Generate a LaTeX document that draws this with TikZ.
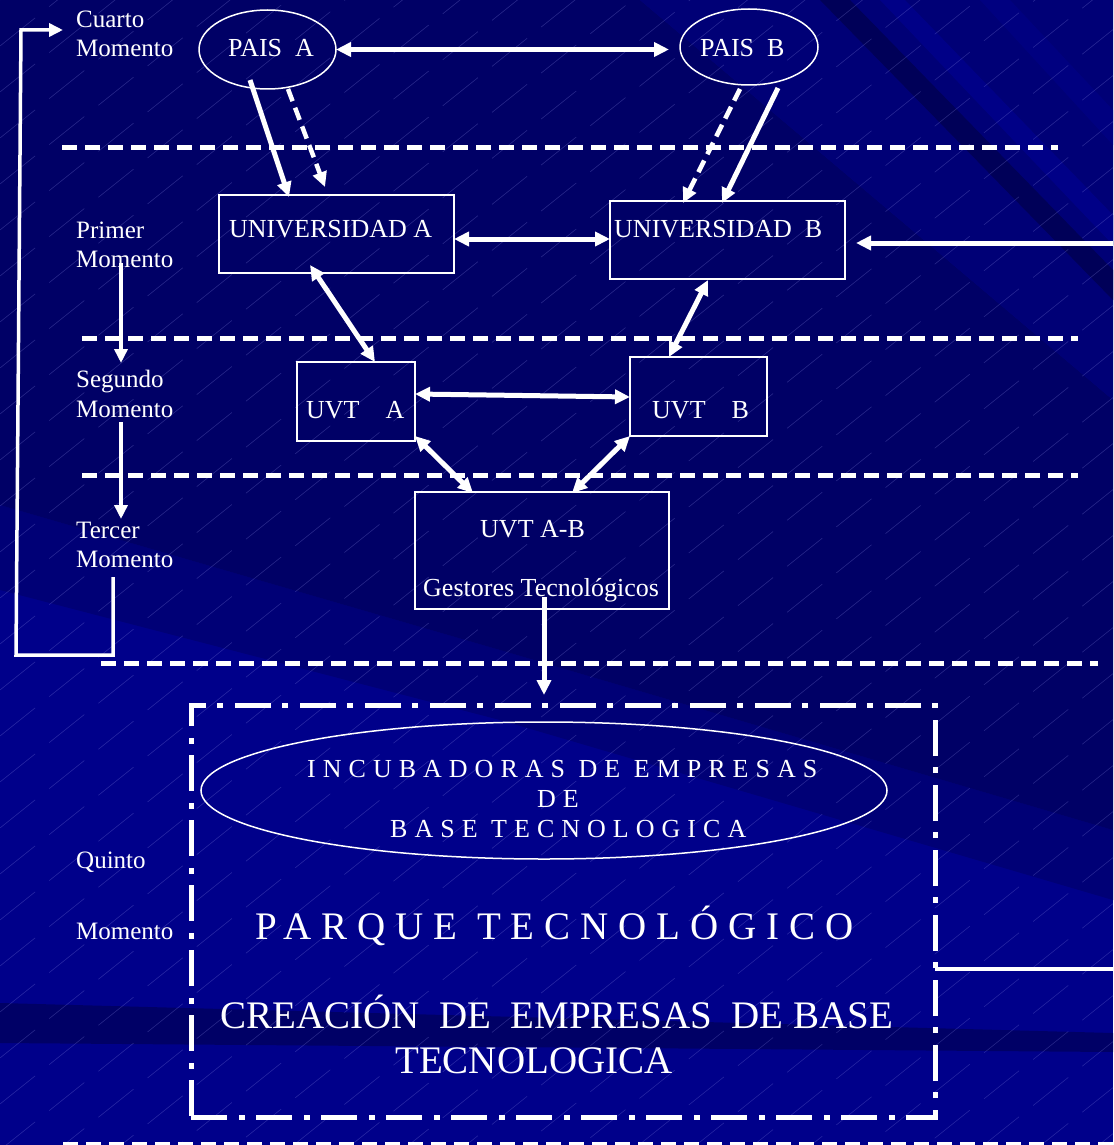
\documentclass[tikz,border=0pt]{standalone}
\usepackage{fontspec}
\setmainfont{Liberation Serif}
\newfontfamily\spacedfont[LetterSpace=27]{Liberation Serif}
\newfontfamily\spacedbig[LetterSpace=25.5]{Liberation Serif}
\usetikzlibrary{arrows.meta,shapes.geometric,calc}
\definecolor{bgL}{RGB}{0,0,138}
\definecolor{bgM}{RGB}{0,0,118}
\definecolor{bgD}{RGB}{0,0,102}
\definecolor{bgDD}{RGB}{0,0,88}
\definecolor{bgS}{RGB}{0,0,135}
\definecolor{hatchc}{RGB}{150,150,235}
\begin{document}
\begin{tikzpicture}[x=1pt,y=-1pt,
  lbl/.style={text=white, font=\fontsize{25}{30}\selectfont, inner sep=0pt, anchor=base west},
  boxtxt/.style={text=white, font=\fontsize{26}{31}\selectfont, inner sep=0pt, anchor=base west},
  box/.style={draw=white, line width=1.5pt, rectangle, inner sep=0pt, outer sep=0pt},
  oval/.style={draw=white, line width=1.5pt, ellipse, inner sep=0pt, outer sep=0pt},
  bigbox/.style={draw=white, line width=5pt, rectangle, inner sep=0pt, outer sep=0pt,
     dash pattern=on 36pt off 12pt on 6pt off 11pt},
  sep/.style={white, line width=5pt, dash pattern=on 15pt off 8pt},
  conn/.style={white, line width=5pt, -{Triangle[length=15pt,width=14pt]}},
  dconn/.style={white, line width=4.5pt, dash pattern=on 13pt off 7pt, -{Triangle[length=15pt,width=14pt]}},
  both/.style={white, line width=5pt, {Triangle[length=15pt,width=14pt]}-{Triangle[length=15pt,width=14pt]}},
  thin/.style={white, line width=3.5pt, -{Triangle[length=14pt,width=13pt]}},
  hatch/.style={hatchc, line width=0.5pt, opacity=0.3, dash pattern=on 45pt off 18pt}
]
\useasboundingbox (0,0) rectangle (1113,1145);
% ---------- background ----------
\begin{scope}
\clip (0,0) rectangle (1113,1145);
\fill[bgL] (0,0) rectangle (1113,1145);
\fill[bgM] (0,505) -- (500,650) -- (1113,830) -- (1113,900) -- (500,720) -- (0,590) -- cycle;
\fill[bgD] (0,0) -- (640,0) -- (1113,400) -- (1113,830) -- (500,650) -- (0,505) -- cycle;
\fill[bgM] (640,0) -- (1113,0) -- (1113,400) -- cycle;
\fill[bgDD] (820,0) -- (850,0) -- (1113,270) -- (1113,300) -- cycle;
\fill[bgS] (880,0) -- (905,0) -- (1113,215) -- (1113,245) -- cycle;
\fill[bgS, opacity=0.6] (980,0) -- (1010,0) -- (1113,110) -- (1113,145) -- cycle;
\fill[bgDD, opacity=0.7] (0,1003) -- (1113,1033) -- (1113,1052) -- (0,1043) -- cycle;
\foreach \c in {0,46,...,2050} \draw[hatch] (0,\c) -- ++(1900,-1520);
\end{scope}
% ---------- separators ----------
\draw[sep] (62,147) -- (1058,147);
\draw[sep] (82,338) -- (1078,338);
\draw[sep] (82,475) -- (1078,475);
\draw[sep] (101,663) -- (1098,663);
\draw[sep] (63,1144) -- (1113,1144);
% ---------- left labels ----------
\node[lbl] (l4a) at (76,28) {Cuarto};
\node[lbl] (l4b) at (76,57) {Momento};
\node[lbl] (l1a) at (76,238) {Primer};
\node[lbl] (l1b) at (76,267) {Momento};
\node[lbl] (l2a) at (76,387) {Segundo};
\node[lbl] (l2b) at (76,417) {Momento};
\node[lbl] (l3a) at (76,538) {Tercer};
\node[lbl] (l3b) at (76,567) {Momento};
\node[lbl] (l5a) at (76,868) {Quinto};
\node[lbl] (l5b) at (76,939) {Momento};
% ---------- shapes ----------
\node[oval, minimum width=137pt, minimum height=79pt] (pa) at (267.5,49.5) {};
\node[oval, minimum width=138pt, minimum height=76pt] (pb) at (749,47) {};
\node[box, minimum width=235pt, minimum height=78pt] (ua) at (336.5,234) {};
\node[box, minimum width=235pt, minimum height=78pt] (ub) at (727.5,240) {};
\node[box, minimum width=118pt, minimum height=79pt] (uvta) at (356,401.5) {};
\node[box, minimum width=137pt, minimum height=79pt] (uvtb) at (698.5,396.5) {};
\node[box, minimum width=254pt, minimum height=117pt] (uvtab) at (542,550.5) {};
\node[bigbox, minimum width=744pt, minimum height=412pt] (big) at (563,911) {};
\node[oval, minimum width=686pt, minimum height=137pt] (inc) at (544,790.5) {};
% ---------- texts ----------
\node[boxtxt] (tpa) at (228,57) {PAIS\ \ A};
\node[boxtxt] (tpb) at (700,57) {PAIS\ \ B};
\node[boxtxt] (tua) at (229,237) {UNIVERSIDAD A};
\node[boxtxt] (tub) at (614,237) {UNIVERSIDAD\ \ B};
\node[boxtxt] (tuvta) at (306,418) {UVT\ \ \ \ A};
\node[boxtxt] (tuvtb) at (652,418) {UVT\ \ \ \ B};
\node[boxtxt] (tuvtab) at (480,537) {UVT A-B};
\node[boxtxt] (tgest) at (423,596) {Gestores Tecnológicos};
\node[boxtxt, font=\spacedfont\fontsize{26}{31}\selectfont] (ti1) at (307,777) {INCUBADORAS DE EMPRESAS};
\node[boxtxt, font=\spacedfont\fontsize{26}{31}\selectfont] (ti2) at (537,807) {DE};
\node[boxtxt, font=\spacedfont\fontsize{26}{31}\selectfont] (ti3) at (390,837) {BASE TECNOLOGICA};
\node[boxtxt, font=\spacedbig\fontsize{39}{46}\selectfont] (tpq) at (255,939) {PARQUE TECNOLÓGICO};
\node[boxtxt, font=\fontsize{39}{46}\selectfont] (tcr1) at (220,1028) {CREACIÓN\ \ DE\ \ EMPRESAS\ \ DE BASE};
\node[boxtxt, font=\fontsize{39}{46}\selectfont] (tcr2) at (395,1073) {TECNOLOGICA};
% ---------- connectors ----------
\draw[both] (pa.east) -- ($(pb.west)+(-11,2.5)$);
\draw[conn] ($(pa.center)+(-17.5,30.5)$) -- ($(ua.center)+(-47.5,-37)$);
\draw[dconn] ($(pa.center)+(20.5,39.5)$) -- ($(ua.center)+(-11.5,-47)$);
\draw[dconn] ($(pb.center)+(-9,42)$) -- ($(ub.center)+(-44.5,-37)$);
\draw[conn] ($(pb.center)+(29,41)$) -- ($(ub.center)+(-5.5,-37)$);
\draw[both] ($(ua.east)+(0,5)$) -- ($(ub.west)+(0,-1)$);
\coordinate (rin) at (1113,243);
\draw[conn] (rin) -- ($(ub.east)+(11,3)$);
\draw[both] ($(ua.center)+(-26.5,31)$) -- ($(uvta.center)+(19,-39.5)$);
\draw[both] ($(ub.center)+(-19.5,40)$) -- ($(uvtb.center)+(-29.5,-39.5)$);
\draw[both] ($(uvta.center)+(59,-7.5)$) -- ($(uvtb.center)+(-68.5,0.5)$);
\draw[both] ($(uvta.center)+(59,34.5)$) -- ($(uvtab.center)+(-69,-57.5)$);
\draw[both] ($(uvtb.center)+(-68.5,39.5)$) -- ($(uvtab.center)+(30,-57.5)$);
\coordinate (incin) at (544,695);
\draw[conn] ($(uvtab.center)+(2,46.5)$) -- (incin);
\coordinate (rout) at (1113,969);
\draw[white, line width=4pt] ($(big.east)+(0,58)$) -- (rout);
% left side flow
\draw[thin] ($(l1b.base west)+(45,-4)$) -- ($(l2a.base west)+(45,-24)$);
\draw[thin] ($(l2b.base west)+(45,5)$) -- ($(l3a.base west)+(45,-19)$);
\coordinate (lp1) at (113,655);
\coordinate (lp2) at (16,655);
\coordinate (lp3) at (21,30);
\draw[thin] ($(l3b.base west)+(37,10)$) -- (lp1) -- (lp2) -- (lp3) -- ($(l4a.base west)+(-13,2)$);
\end{tikzpicture}
\end{document}
